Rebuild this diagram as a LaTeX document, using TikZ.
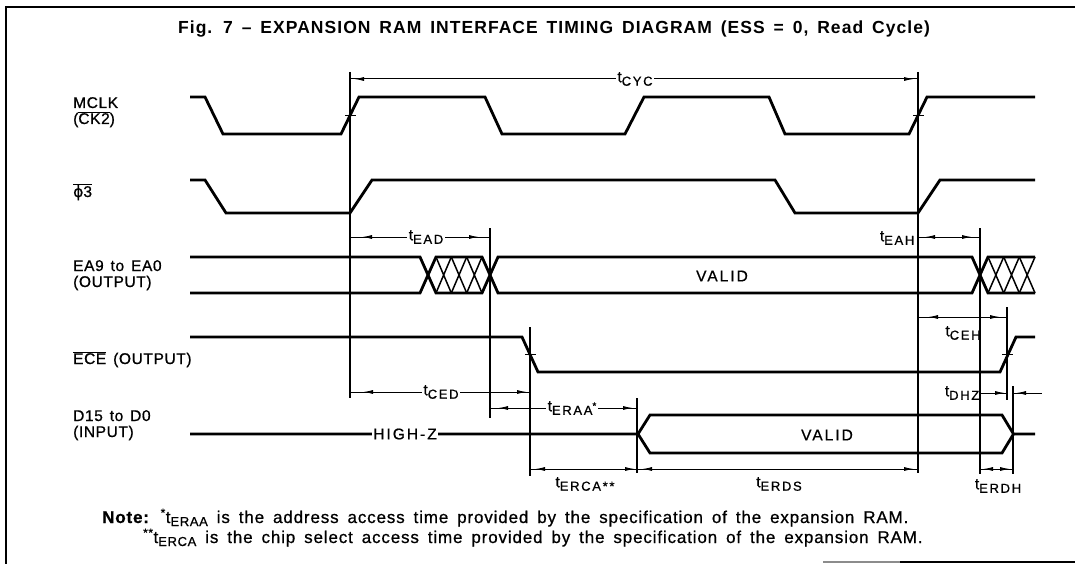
\documentclass[tikz,border=0pt]{standalone}
\usepackage{fontspec}
\setmainfont{Liberation Sans}[LetterSpace=4,WordSpace=1.4,FakeBold=0.8]
\newfontfamily\subf{Liberation Sans}[LetterSpace=13,FakeBold=0.8]
\newfontfamily\widef{Liberation Sans}[LetterSpace=13,WordSpace=1.5,FakeBold=0.8]
\newfontfamily\titlef{Liberation Sans}[LetterSpace=6,WordSpace=1.5]
\newfontfamily\notef{Liberation Sans}[LetterSpace=5,WordSpace=1.6,FakeBold=0.8]
\newfontfamily\dejavu{DejaVu Sans}[FakeBold=0.8]
\usetikzlibrary{arrows.meta,calc}
\newcommand\ovl[1]{\ensuremath{\overline{\hbox{#1}}}}
\newcommand\tnm[1]{t\raisebox{-3.5pt}{\fontsize{13}{13}\subf #1}}
\newcommand\tnmn[1]{t\raisebox{-3pt}{\fontsize{13}{13}\selectfont #1}}
\newcommand\dimar[4]{%
  \draw[dimln] (#1) -- (#2);
  \draw[dimln,dimtip] ($(#1)!#3pt+10pt!(#2)$) -- ($(#1)!#3pt!(#2)$);
  \draw[dimln,dimtip] ($(#2)!#4pt+10pt!(#1)$) -- ($(#2)!#4pt!(#1)$);
}
\begin{document}
\begin{tikzpicture}[x=1pt,y=-1pt,
  wave/.style={line width=2.8pt, line join=miter, miter limit=4},
  hatchln/.style={line width=1.5pt},
  refl/.style={line width=1.1pt},
  dimln/.style={line width=1pt},
  dimtip/.style={-{Latex[length=10pt,width=4pt]}},
  lbl/.style={font=\fontsize{15.5}{18}\selectfont, inner sep=1.5pt},
  onl/.style={lbl, fill=white},
  sig/.style={lbl, anchor=base west, inner sep=0pt},
  wide/.style={font=\fontsize{15.5}{17}\widef, inner sep=1.5pt},
  note/.style={font=\fontsize{17}{19}\notef, anchor=base west, inner sep=0pt}
  ]
\useasboundingbox (0,0) rectangle (1075,564);
% frame
\draw[line width=1.3pt] (6,564) -- (6,7) -- (1075,7);
\draw[line width=1.1pt, black!45] (823,562) -- (900,562);
\draw[line width=1.2pt] (900,562) -- (1075,562);
% title
\node[font=\fontsize{17.5}{19}\titlef\bfseries, inner sep=0pt] (title) at (554,29)
  {Fig. 7 – EXPANSION RAM INTERFACE TIMING DIAGRAM (ESS = 0, Read Cycle)};
% signal names
\node[sig] (lmclk) at (73,108) {MCLK};
\node[sig] (lck) at (73,124) {(\ovl{CK2})};
\node[sig] (lphi) at (73,197) {\ovl{{\dejavu ϕ}3}};
\node[sig] (lea1) at (73,271) {EA9 to EA0};
\node[sig] (lea2) at (73,287) {(OUTPUT)};
\node[sig] (lece) at (73,364) {\ovl{ECE} (OUTPUT)};
\node[sig] (ld1) at (73,421) {D15 to D0};
\node[sig] (ld2) at (73,437) {(INPUT)};
% reference verticals
\draw[refl] (350,72) -- (350,398);
\draw[refl] (918,72) -- (918,473);
\draw[refl] (490,228) -- (490,418);
\draw[refl] (530,327) -- (530,476);
\draw[refl] (637,398) -- (637,473);
\draw[refl] (980,228) -- (980,474);
\draw[refl] (1007,307) -- (1007,400);
\draw[refl] (1013,386) -- (1013,474);
% MCLK
\draw[wave] (190,97) -- (205,97) -- (223,134) -- (341,134) -- (359,97) -- (485,97) -- (502,134)
  -- (625,134) -- (644,97) -- (769,97) -- (785,134) -- (909,134) -- (927,97) -- (1035,97);
\draw[dimln] (345,115.5) -- (356,115.5);
\draw[dimln] (913,115.5) -- (924,115.5);
% phi3
\draw[wave] (190,180) -- (205,180) -- (226,213) -- (350,213) -- (372,180) -- (775,180)
  -- (795,213) -- (918,213) -- (940,180) -- (1035,180);
% EA bus
\draw[wave] (190,257) -- (420,257) -- (436,293) -- (482,293) -- (498,257) -- (972,257) -- (988,293) -- (1035,293);
\draw[wave] (190,293) -- (420,293) -- (436,257) -- (482,257) -- (498,293) -- (972,293) -- (988,257) -- (1035,257);
\foreach \a/\b in {436/451.3, 451.3/466.7, 466.7/482, 988/1003.7, 1003.7/1019.3, 1019.3/1035}
  {\draw[hatchln] (\a,257) -- (\b,293) (\a,293) -- (\b,257);}
\node[wide] (eavalid) at (722,276) {VALID};
% ECE
\draw[wave] (190,337) -- (522,337) -- (538,372) -- (1000,372) -- (1016,337) -- (1035,337);
\draw[dimln] (525,354.5) -- (536,354.5);
\draw[dimln] (1002,354.5) -- (1013,354.5);
% D15
\draw[wave] (190,434) -- (638,434) -- (650,415) -- (1002,415) -- (1013.5,434) -- (1035,434);
\draw[wave] (638,434) -- (650,453) -- (1002,453) -- (1013.5,434);
\node[wide, fill=white] (hiz) at (405,434) {HIGH-Z};
\node[wide] (dvalid) at (827,435) {VALID};
% dimension lines
\dimar{350,79}{918,79}{4}{4}
\node[onl] (tcyc) at (635,79) {\tnm{CYC}};
\dimar{350,237}{490,237}{12}{11}
\node[onl] (tead) at (426,237) {\tnm{EAD}};
\dimar{918,237}{980,237}{7}{8}
\node[lbl, anchor=east] (teah) at (916,238) {\tnm{EAH}};
\dimar{918,317}{1007,317}{10}{7}
\node[lbl] (tceh) at (963,333) {\tnm{CEH}};
\dimar{350,392}{530,392}{13}{3}
\node[onl] (tced) at (441,392) {\tnm{CED}};
\dimar{490,408}{637,408}{8}{4}
\node[onl] (teraa) at (572,408) {\tnm{ERAA}\raisebox{2pt}{\fontsize{10}{10}\selectfont*}};
\dimar{530,469}{637,469}{5}{2}
\node[lbl] (terca) at (585,484) {\tnm{ERCA**}};
\dimar{637,469}{918,469}{5}{4}
\node[lbl] (terds) at (779,484) {\tnm{ERDS}};
\dimar{980,469}{1013,469}{3}{3}
\node[lbl] (terdh) at (998,486) {\tnm{ERDH}};
\node[lbl, anchor=east] (tdhz) at (981,393) {\tnm{DHZ}};
\draw[dimln] (981,393) -- (1007,393);
\draw[dimln,dimtip] (995,393) -- (1005,393);
\draw[dimln] (1014,393) -- (1042,393);
\draw[dimln,dimtip] (1026,393) -- (1016,393);
% notes
\node[note] (n1) at (102,523) {\textbf{Note:} \textsuperscript{*}\tnmn{ERAA} is the address access time provided by the specification of the expansion RAM.};
\node[note] (n2) at (143,543) {\textsuperscript{**}\tnmn{ERCA} is the chip select access time provided by the specification of the expansion RAM.};
\end{tikzpicture}
\end{document}
